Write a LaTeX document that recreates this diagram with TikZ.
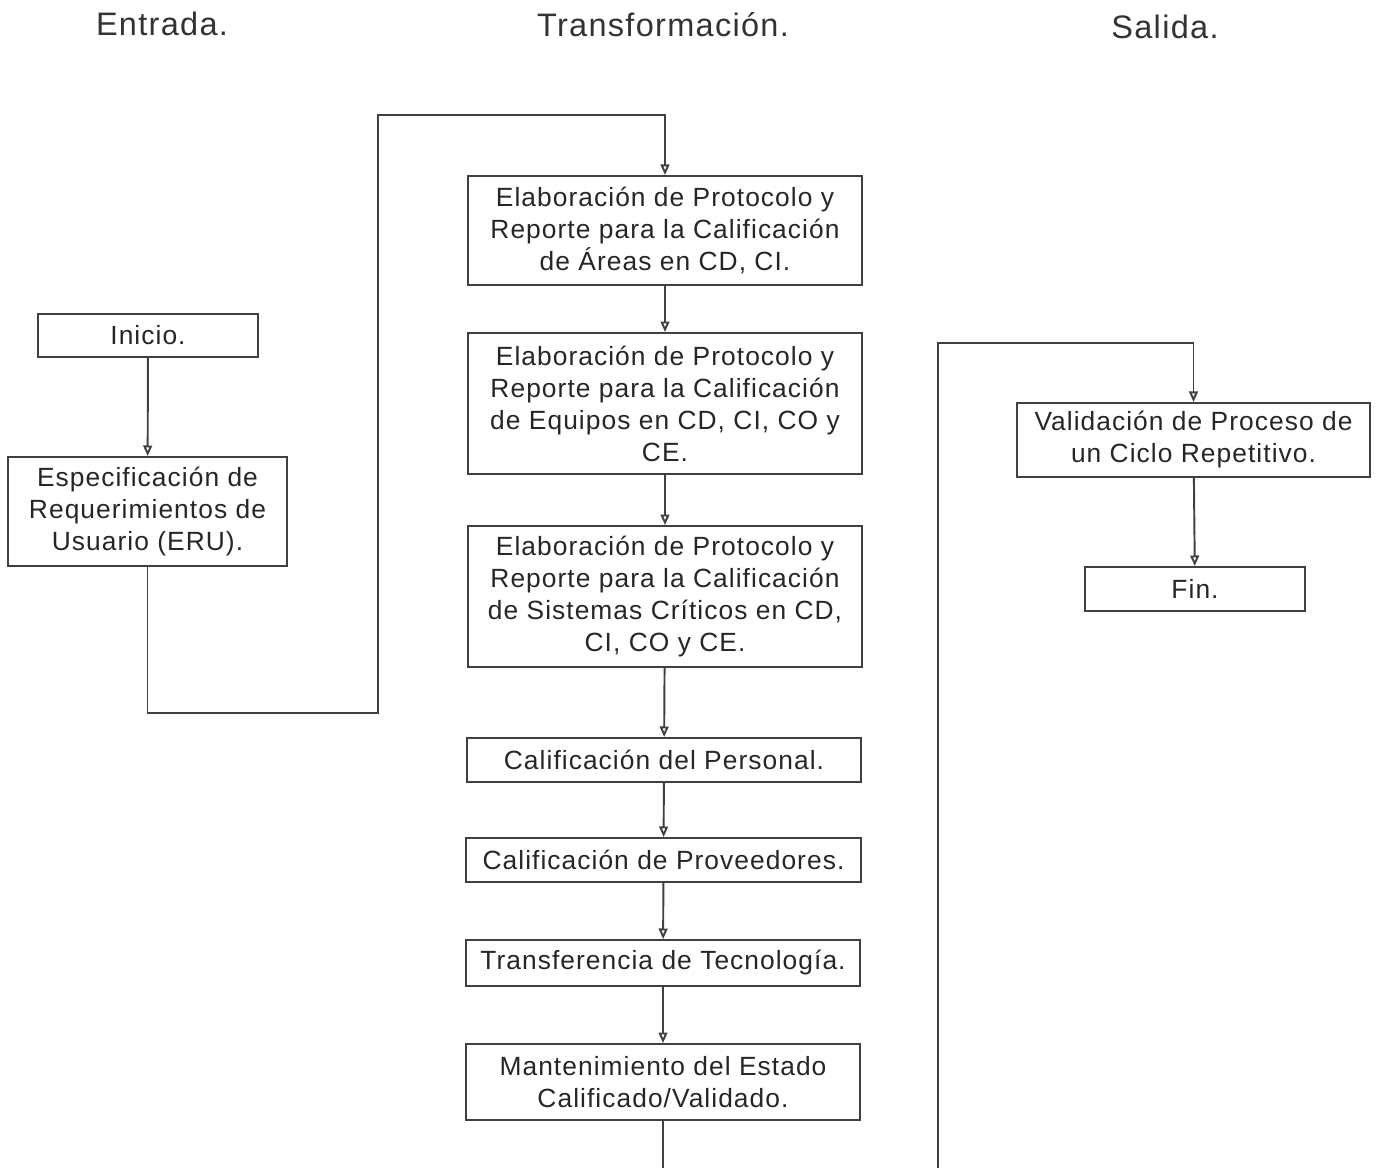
\documentclass[tikz,border=0pt]{standalone}
\usepackage{fontspec}
\setmainfont[LetterSpace=4]{Liberation Sans}
\usetikzlibrary{arrows.meta}

\begin{document}
\begin{tikzpicture}[x=0.02cm, y=-0.02cm, % coordenadas en pixeles
  caja/.style={draw=black!75, line width=1.1pt, align=center, inner sep=2pt,
    font=\fontsize{15}{18.2}\selectfont, text=black!85},
  flecha/.style={draw=black!75, line width=1.1pt, -{Triangle[open, length=6pt, width=5pt]}},
  linea/.style={draw=black!75, line width=1.1pt},
  titulo/.style={font=\fontsize{18.5}{21}\selectfont, text=black!80}]
  \useasboundingbox (0,0) rectangle (1376,1168); % margenes del dibujo

  % columnas
  \node[titulo] (tent) at (162,24) {Entrada.};
  \node[titulo] (ttra) at (663,25) {Transformación.};
  \node[titulo] (tsal) at (1165,27) {Salida.};

  % entrada
  \node[caja, minimum width=4.4cm, minimum height=0.86cm] (inicio) at (148,335.5) {Inicio.};
  \node[caja, minimum width=5.58cm, minimum height=2.18cm] (eru) at (147.5,511.5) {Especificación de\\Requerimientos de\\Usuario (ERU).};

  % transformacion
  \node[caja, minimum width=7.88cm, minimum height=2.18cm] (areas) at (665,230.5) {Elaboración de Protocolo y\\Reporte para la Calificación\\de Áreas en CD, CI.};
  \node[caja, minimum width=7.88cm, minimum height=2.82cm] (equipos) at (665,403.5) {Elaboración de Protocolo y\\Reporte para la Calificación\\de Equipos en CD, CI, CO y\\CE.};
  \node[caja, minimum width=7.88cm, minimum height=2.82cm] (sistemas) at (665,596.5) {Elaboración de Protocolo y\\Reporte para la Calificación\\de Sistemas Críticos en CD,\\CI, CO y CE.};
  \node[caja, minimum width=7.88cm, minimum height=0.88cm] (personal) at (664,760) {Calificación del Personal.};
  \node[caja, minimum width=7.9cm, minimum height=0.88cm] (proveedores) at (663.5,860) {Calificación de Proveedores.};
  \node[caja, minimum width=7.88cm, minimum height=0.92cm] (tecnologia) at (663,963) {Transferencia de Tecnología.};
  \node[caja, minimum width=7.88cm, minimum height=1.52cm] (estado) at (663,1082) {Mantenimiento del Estado\\Calificado/Validado.};

  % salida
  \node[caja, minimum width=7.06cm, minimum height=1.48cm] (validacion) at (1193.5,440) {Validación de Proceso de\\un Ciclo Repetitivo.};
  \node[caja, minimum width=4.4cm, minimum height=0.88cm] (fin) at (1195,589) {Fin.};

  % puntos de quiebre
  \coordinate (q1) at (378,713);
  \coordinate (q2) at (378,115);
  \coordinate (abajo) at (663,1168);
  \coordinate (subida) at (938,1168);
  \coordinate (q3) at (938,343);

  \draw[flecha] (inicio) -- (eru);
  \draw[flecha] (eru.south) |- (q1) -- (q2) -| (areas.north);
  \draw[flecha] (areas) -- (equipos);
  \draw[flecha] (equipos) -- (sistemas);
  \draw[flecha] (sistemas) -- (personal);
  \draw[flecha] (personal) -- (proveedores);
  \draw[flecha] (proveedores) -- (tecnologia);
  \draw[flecha] (tecnologia) -- (estado);
  \draw[linea] (estado.south) -- (abajo); % sigue fuera de la hoja
  \draw[flecha] (subida) -- (q3) -| (validacion.north);
  \draw[flecha] (validacion) -- (fin);
\end{tikzpicture}
\end{document}
